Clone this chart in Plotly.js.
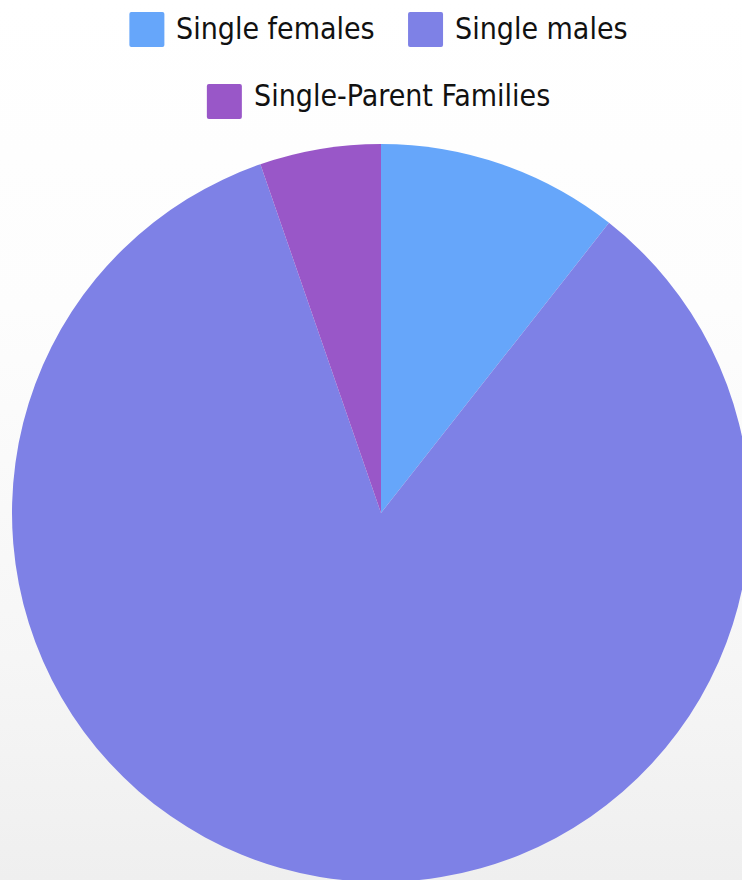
<!DOCTYPE html>
<html>
<head>
<meta charset="utf-8">
<script src="https://cdn.plot.ly/plotly-3.0.1.min.js"></script>
<style>
  html, body { margin: 0; padding: 0; width: 742px; height: 880px; overflow: hidden;
    background: linear-gradient(to bottom, #ffffff 0%, #fdfdfd 35%, #f6f6f6 75%, #efefef 100%); }
  #chart { width: 760px; height: 890px; }
</style>
</head>
<body>
<div id="chart"></div>
<script>
// Data
var labels = ["Single females", "Single males", "Single-Parent Families"];
var values = [10.6, 84.1, 5.3];
var colors = ["#66a6fa", "#7e81e6", "#9957c8"];

// Figure geometry (pixels)
var W = 760, H = 890;
var M = {l: 12, r: 10, t: 144, b: 8};
var PW = W - M.l - M.r, PH = H - M.t - M.b;
function px2x(px) { return (px - M.l) / PW; }
function py2y(py) { return 1 - (py - M.t) / PH; }

// Custom legend layout: rows of items (indices)
var legendRows = [[0, 1], [2]];
var rowSwatchTop = [12, 84];
var rowTextShift = [-1, -6];
var swatch = 35, textGap = 11, itemGap = 34;
var legendFont = {family: "DejaVu Sans Condensed, DejaVu Sans, sans-serif", size: 30, color: "#111111"};

var cv = document.createElement('canvas').getContext('2d');
cv.font = legendFont.size + 'px "DejaVu Sans Condensed"';
function tw(s) { return cv.measureText(s).width; }

var shapes = [], annotations = [];
var centerX = 378;
legendRows.forEach(function (row, ri) {
  var widths = row.map(function (i) { return swatch + textGap + tw(labels[i]); });
  var total = widths.reduce(function (a, b) { return a + b; }, 0) + itemGap * (row.length - 1);
  var x = centerX - total / 2;
  var top = rowSwatchTop[ri];
  row.forEach(function (i, k) {
    var x0 = x, x1 = x + swatch, y0 = top, y1 = top + swatch, r = 2;
    var path = 'M' + px2x(x0 + r) + ',' + py2y(y0) +
      ' L' + px2x(x1 - r) + ',' + py2y(y0) +
      ' Q' + px2x(x1) + ',' + py2y(y0) + ' ' + px2x(x1) + ',' + py2y(y0 + r) +
      ' L' + px2x(x1) + ',' + py2y(y1 - r) +
      ' Q' + px2x(x1) + ',' + py2y(y1) + ' ' + px2x(x1 - r) + ',' + py2y(y1) +
      ' L' + px2x(x0 + r) + ',' + py2y(y1) +
      ' Q' + px2x(x0) + ',' + py2y(y1) + ' ' + px2x(x0) + ',' + py2y(y1 - r) +
      ' L' + px2x(x0) + ',' + py2y(y0 + r) +
      ' Q' + px2x(x0) + ',' + py2y(y0) + ' ' + px2x(x0 + r) + ',' + py2y(y0) + ' Z';
    shapes.push({type: 'path', xref: 'paper', yref: 'paper', path: path,
      fillcolor: colors[i], line: {width: 0}});
    annotations.push({xref: 'paper', yref: 'paper', x: px2x(x1 + textGap),
      y: py2y(top + swatch / 2 + rowTextShift[ri]),
      xanchor: 'left', yanchor: 'middle', showarrow: false, text: labels[i],
      font: legendFont, borderpad: 0});
    x += widths[k] + itemGap;
  });
});

var data = [{
  type: 'pie',
  labels: labels,
  values: values,
  marker: {colors: colors, line: {width: 0}},
  sort: false,
  direction: 'clockwise',
  rotation: 0,
  textinfo: 'none',
  hoverinfo: 'label+percent',
  domain: {x: [0, 1], y: [0, 1]}
}];

var layout = {
  width: W, height: H,
  margin: M,
  showlegend: false,
  paper_bgcolor: 'rgba(0,0,0,0)',
  plot_bgcolor: 'rgba(0,0,0,0)',
  shapes: shapes,
  annotations: annotations
};

Plotly.newPlot('chart', data, layout, {displayModeBar: false, staticPlot: true});
</script>
</body>
</html>
